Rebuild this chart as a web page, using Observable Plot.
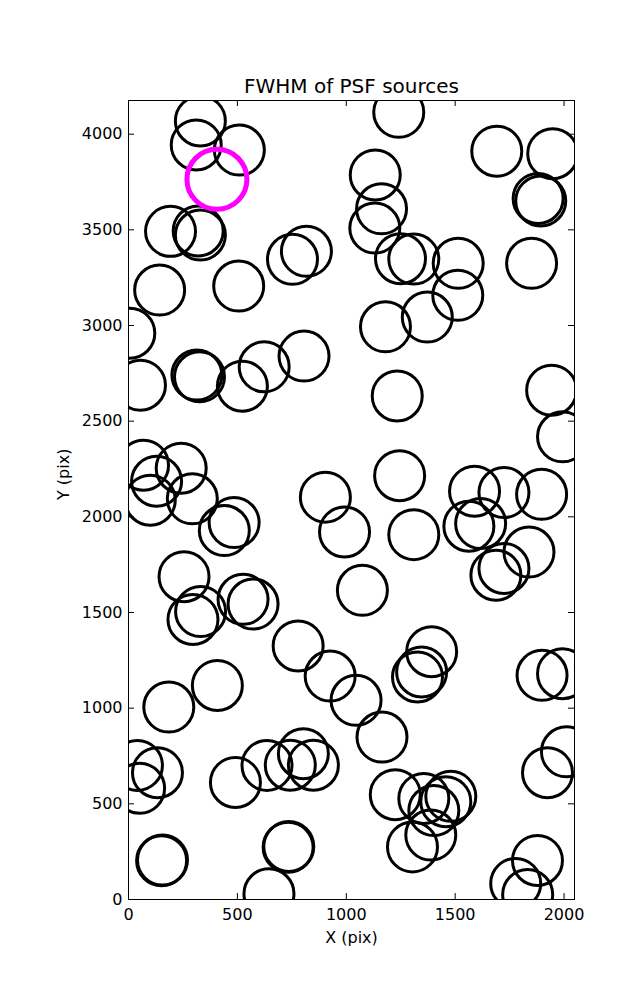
<!DOCTYPE html>
<html>
<head>
<meta charset="utf-8">
<script src="https://cdn.jsdelivr.net/npm/d3@7"></script>
<script src="https://cdn.jsdelivr.net/npm/@observablehq/plot@0.6"></script>
<style>
  html, body { margin: 0; padding: 0; background: #fff; }
  #chart { width: 637px; height: 1000px; }
</style>
</head>
<body>
<div id="chart"></div>
<script>
// ---- data (pixel coordinates on the detector) ----
const title = "FWHM of PSF sources";
const xLabel = "X (pix)";
const yLabel = "Y (pix)";
const xTicks = [0, 500, 1000, 1500, 2000];
const yTicks = [0, 500, 1000, 1500, 2000, 2500, 3000, 3500, 4000];

const srcX = [
  330, 311, 509, 193, 320, 330, 753, 817, 143, 506,
  1241, 1691, 1948, 1133, 1162, 1131, 1249, 1310, 1514, 1512,
  1180, 1372, 1881, 1893, 1851,
  6, 55, 314, 326, 523, 623, 806, 1234, 1943, 1993,
  69, 242, 129, 100, 293, 440, 485, 904, 992, 1245,
  1310, 1589, 1563, 1617, 1724, 1897, 1839, 1724, 1687,
  255, 331, 296, 526, 572, 779, 1074,
  185, 408, 926, 1045, 1164, 1392, 1346, 1327, 1899, 1993,
  41, 133, 51, 491, 636, 743, 803, 849, 1225, 1356,
  1480, 1457, 1402, 1388, 1304, 1924, 2011,
  152, 156, 733, 736, 645, 1878, 1778, 1833
];
const srcY = [
  4069, 3944, 3917, 3492, 3494, 3473, 3346, 3388, 3185, 3206,
  4114, 3911, 3898, 3787, 3610, 3509, 3349, 3347, 3325, 3158,
  2993, 3044, 3664, 3651, 3325,
  2960, 2688, 2741, 2732, 2683, 2784, 2840, 2632, 2662, 2418,
  2270, 2254, 2186, 2087, 2094, 1928, 1970, 2103, 1921, 2215,
  1907, 2134, 1951, 1965, 2127, 2118, 1816, 1730, 1695,
  1687, 1505, 1464, 1569, 1544, 1325, 1616,
  1006, 1119, 1168, 1041, 849, 1295, 1189, 1163, 1172, 1180,
  701, 663, 581, 612, 701, 702, 762, 702, 548, 528,
  539, 511, 465, 337, 275, 663, 772,
  203, 206, 273, 277, 30, 204, 84, 26
];
// highlighted (magenta) source
const hiX = [406];
const hiY = [3764];

const sources = srcX.map((x, i) => ({x, y: srcY[i]}));
const highlight = hiX.map((x, i) => ({x, y: hiY[i]}));

const W = 637, H = 1000;
const mL = 128, mR = 63, mT = 100, mB = 101;
const frameW = W - mL - mR, frameH = H - mT - mB;
const tickLen = 6;
const fmt = d => String(d);

const chart = Plot.plot({
  width: W,
  height: H,
  marginLeft: mL,
  marginRight: mR,
  marginTop: mT,
  marginBottom: mB,
  style: {fontFamily: "DejaVu Sans", fontSize: "16px", background: "white", color: "black"},
  x: {domain: [0, 2048]},
  y: {domain: [0, 4176]},
  marks: [
    Plot.dot(sources, {x: "x", y: "y", r: 25, stroke: "black", strokeWidth: 3, fill: "none", clip: true}),
    Plot.dot(highlight, {x: "x", y: "y", r: 30, stroke: "#ff00ff", strokeWidth: 5, fill: "none", clip: true}),
    Plot.frame({stroke: "black", strokeWidth: 1}),
    // inward ticks on all four sides
    Plot.tickX(xTicks, {x: d => d, insetTop: frameH - tickLen, stroke: "black"}),
    Plot.tickX(xTicks, {x: d => d, insetBottom: frameH - tickLen, stroke: "black"}),
    Plot.tickY(yTicks, {y: d => d, insetRight: frameW - tickLen, stroke: "black"}),
    Plot.tickY(yTicks, {y: d => d, insetLeft: frameW - tickLen, stroke: "black"}),
    Plot.axisX({ticks: xTicks, tickSize: 0, tickPadding: 9, tickFormat: fmt, label: null, fontSize: 16}),
    Plot.axisY({ticks: yTicks, tickSize: 0, tickPadding: 6, tickFormat: fmt, label: null, fontSize: 16}),
    Plot.text([title], {text: d => d, frameAnchor: "top", dy: -14, lineAnchor: "middle", fontSize: 20, fill: "black"}),
    Plot.text([xLabel], {text: d => d, frameAnchor: "bottom", dy: 38, lineAnchor: "middle", fontSize: 16, fill: "black"}),
    Plot.text([yLabel], {text: d => d, frameAnchor: "left", dx: -65, rotate: -90, lineAnchor: "middle", fontSize: 16, fill: "black"})
  ]
});
document.getElementById("chart").appendChild(chart);
</script>
</body>
</html>
